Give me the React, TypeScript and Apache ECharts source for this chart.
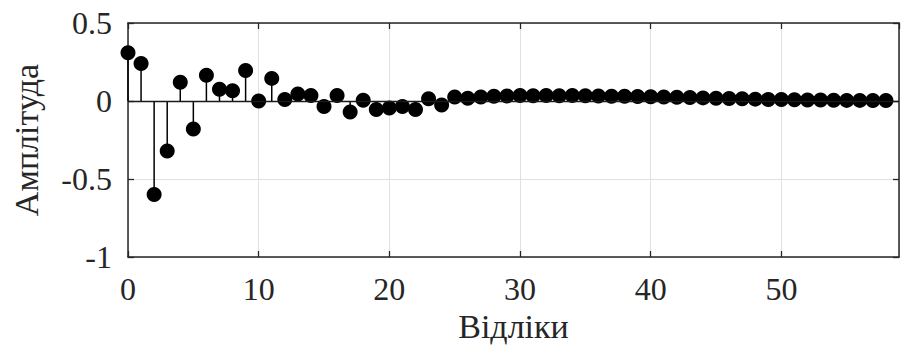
import React, { useEffect, useRef } from "react";
import * as echarts from "echarts";

const samples: number[] = Array.from({ length: 59 }, (_, i) => i);
const amplitudes: number[] = [
  0.31, 0.24, -0.6, -0.32, 0.12, -0.18, 0.165, 0.075, 0.065, 0.195,
  0.0, 0.145, 0.01, 0.045, 0.035, -0.036, 0.036, -0.07, 0.005, -0.055,
  -0.045, -0.036, -0.055, 0.015, -0.026, 0.026, 0.018, 0.026, 0.03, 0.032,
  0.036, 0.033, 0.036, 0.034, 0.035, 0.033, 0.032, 0.031, 0.03, 0.029,
  0.027, 0.026, 0.024, 0.022, 0.02, 0.018, 0.016, 0.014, 0.012, 0.01,
  0.009, 0.008, 0.007, 0.006, 0.005, 0.004, 0.004, 0.003, 0.003,
];
const xTicks = { min: 0, max: 59, interval: 10 };
const yTicks = { min: -1, max: 0.5, interval: 0.5 };
const xTitle = "Відліки";
const yTitle = "Амплітуда";

const FONT = "Liberation Serif";
const AXIS_COLOR = "#262626";
const GRID_COLOR = "#e0e0e0";

export default function App() {
  const ref = useRef<HTMLDivElement>(null);
  useEffect(() => {
    if (!ref.current) return;
    const chart = echarts.init(ref.current, null, { renderer: "svg" });
    const points = samples.map((n, i) => [n, amplitudes[i]]);
    const axisLine = { show: true, onZero: false, lineStyle: { color: AXIS_COLOR, width: 1.5 } };
    const axisTick = { show: true, inside: true, length: 6, lineStyle: { color: AXIS_COLOR, width: 1.3 } };
    chart.setOption({
      animation: false,
      backgroundColor: "#ffffff",
      textStyle: { fontFamily: FONT },
      grid: { left: 128, right: 2, top: 23, bottom: 95, containLabel: false },
      xAxis: [
        {
          type: "value",
          ...xTicks,
          axisLine,
          axisTick,
          splitLine: { show: true, lineStyle: { color: GRID_COLOR, width: 1 } },
          axisLabel: {
            show: true,
            margin: 16,
            fontFamily: FONT,
            fontSize: 32,
            color: "#262626",
            showMaxLabel: false,
            formatter: (v: number) => (v % 10 === 0 ? String(v) : ""),
          },
          name: xTitle,
          nameLocation: "middle",
          nameGap: 52,
          nameTextStyle: { fontFamily: FONT, fontSize: 34, color: "#262626" },
        },
        {
          type: "value",
          position: "top",
          ...xTicks,
          axisLine,
          axisTick,
          splitLine: { show: false },
          axisLabel: { show: false },
        },
      ],
      yAxis: [
        {
          type: "value",
          ...yTicks,
          axisLine,
          axisTick,
          splitLine: { show: true, lineStyle: { color: GRID_COLOR, width: 1 } },
          axisLabel: {
            show: true,
            margin: 16,
            fontFamily: FONT,
            fontSize: 32,
            color: "#262626",
            formatter: (v: number) => String(v),
          },
          name: yTitle,
          nameLocation: "middle",
          nameGap: 85,
          nameTextStyle: { fontFamily: FONT, fontSize: 34, color: "#262626" },
        },
        {
          type: "value",
          position: "right",
          ...yTicks,
          axisLine,
          axisTick,
          splitLine: { show: false },
          axisLabel: { show: false },
        },
      ],
      series: [
        {
          type: "custom",
          xAxisIndex: 0,
          yAxisIndex: 0,
          data: points,
          silent: true,
          renderItem: (_params: any, api: any) => {
            const x = api.value(0);
            const y = api.value(1);
            const p0 = api.coord([x, 0]);
            const p1 = api.coord([x, y]);
            return {
              type: "line",
              shape: { x1: p0[0], y1: p0[1], x2: p1[0], y2: p1[1] },
              style: { stroke: "#000000", lineWidth: 1.5 },
            };
          },
          markLine: {
            silent: true,
            symbol: "none",
            label: { show: false },
            lineStyle: { color: "#1a1a1a", width: 1.3, type: "solid" },
            data: [{ yAxis: 0 }],
          },
          z: 2,
        },
        {
          type: "scatter",
          xAxisIndex: 0,
          yAxisIndex: 0,
          data: points,
          symbol: "circle",
          symbolSize: 15,
          itemStyle: { color: "#000000", opacity: 1 },
          clip: false,
          z: 3,
        },
      ],
    });
    return () => chart.dispose();
  }, []);
  return (
    <div
      ref={ref}
      style={{ position: "fixed", left: 0, top: 0, width: 901, height: 352, background: "#fff" }}
    />
  );
}
